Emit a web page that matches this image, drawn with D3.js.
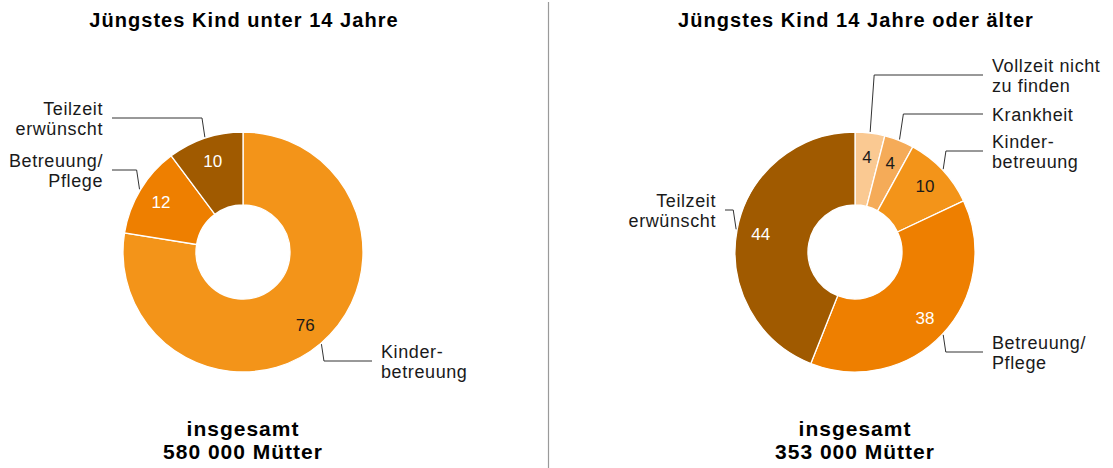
<!DOCTYPE html>
<html>
<head>
<meta charset="utf-8">
<script src="https://cdn.jsdelivr.net/npm/d3@7"></script>
<style>
  body { margin: 0; background: #fff; }
  svg { display: block; font-family: "Liberation Sans", Arial, sans-serif; }
</style>
</head>
<body>
<div id="chart"></div>
<script>
// Mothers working part time - reasons, by age of youngest child

const titles = ["Jüngstes Kind unter 14 Jahre", "Jüngstes Kind 14 Jahre oder älter"];
const totals = ["580 000 Mütter", "353 000 Mütter"];

const categoriesYoung = ["Kinderbetreuung", "Betreuung/Pflege", "Teilzeit erwünscht"];
const valuesYoung = [76, 12, 10];

const categoriesOld = ["Vollzeit nicht zu finden", "Krankheit", "Kinderbetreuung", "Betreuung/Pflege", "Teilzeit erwünscht"];
const valuesOld = [4, 4, 10, 38, 44];

// how each category label is broken into lines
const labelLines = {
    "Kinderbetreuung": ["Kinder-", "betreuung"],
    "Betreuung/Pflege": ["Betreuung/", "Pflege"],
    "Teilzeit erwünscht": ["Teilzeit", "erwünscht"],
    "Vollzeit nicht zu finden": ["Vollzeit nicht", "zu finden"],
    "Krankheit": ["Krankheit"]
};

const colors = {
    "Vollzeit nicht zu finden": "#fac992",
    "Krankheit": "#f5ab58",
    "Kinderbetreuung": "#f39419",
    "Betreuung/Pflege": "#ee7f00",
    "Teilzeit erwünscht": "#a05a00"
};
const darkText = ["Vollzeit nicht zu finden", "Krankheit", "Kinderbetreuung"];

const width = 1113,
    height = 468,
    rOuter = 120,
    rInner = 47,
    rLabel = 96;

// leader layout: knee y and end x of the line, relative to the donut centre
const charts = [
    {cx: 243, cy: 252, categories: categoriesYoung, values: valuesYoung,
     leaders: [{y: 109, x: 129}, {y: -82, x: -131}, {y: -134, x: -131}]},
    {cx: 855, cy: 252, categories: categoriesOld, values: valuesOld,
     leaders: [{y: -177, x: 128}, {y: -138, x: 128}, {y: -101, x: 128}, {y: 100, x: 128}, {y: -42, x: -130}]}
];

const svg = d3.select("#chart")
    .append("svg")
    .attr("width", width)
    .attr("height", height)
    .attr("viewBox", [0, 0, width, height]);

// divider between the two donuts
svg.append("line")
    .attr("x1", 548.5).attr("x2", 548.5)
    .attr("y1", 2).attr("y2", height)
    .attr("stroke", "#9a9a9a")
    .attr("stroke-width", 1.2);

const pie = d3.pie().sort(null).value(d => d.value);
const arc = d3.arc().innerRadius(rInner).outerRadius(rOuter);
const labelArc = d3.arc().innerRadius(rLabel).outerRadius(rLabel);

charts.forEach((c, ci) => {
    const data = c.categories.map((cat, i) => ({cat: cat, value: c.values[i], leader: c.leaders[i]}));
    const g = svg.append("g").attr("transform", `translate(${c.cx},${c.cy})`);

    // title
    svg.append("text")
        .attr("x", c.cx + 1)
        .attr("y", 27)
        .attr("text-anchor", "middle")
        .attr("font-weight", "bold")
        .attr("font-size", 20)
        .style("letter-spacing", "1.05px")
        .text(titles[ci]);

    // total below
    const foot = svg.append("text")
        .attr("text-anchor", "middle")
        .attr("font-weight", "bold")
        .attr("font-size", 21)
        .style("letter-spacing", "1px");
    foot.append("tspan").attr("x", c.cx).attr("y", 436).text("insgesamt");
    foot.append("tspan").attr("x", c.cx).attr("y", 459).text(totals[ci]);

    const arcs = pie(data);

    g.selectAll("path")
        .data(arcs)
        .join("path")
        .attr("d", arc)
        .attr("fill", d => colors[d.data.cat])
        .attr("stroke", "#fff")
        .attr("stroke-width", 1.3);

    // values inside the ring
    g.selectAll(".val")
        .data(arcs)
        .join("text")
        .attr("class", "val")
        .attr("transform", d => `translate(${labelArc.centroid(d)})`)
        .attr("text-anchor", "middle")
        .attr("dy", "0.35em")
        .attr("font-size", 17)
        .attr("fill", d => darkText.includes(d.data.cat) ? "#1a1a1a" : "#fff")
        .text(d => d.data.value);

    // leader lines
    g.selectAll(".leader")
        .data(arcs)
        .join("polyline")
        .attr("class", "leader")
        .attr("fill", "none")
        .attr("stroke", "#333")
        .attr("stroke-width", 1)
        .attr("points", d => {
            const a = (d.startAngle + d.endAngle) / 2;
            const ox = Math.sin(a) * (rOuter + 1),
                oy = -Math.cos(a) * (rOuter + 1);
            const lean = Math.sign(d.data.leader.x) * Math.min(4, Math.abs(d.data.leader.y - oy) * 0.15);
            return [[ox, oy], [ox + lean, d.data.leader.y], [d.data.leader.x, d.data.leader.y]];
        });

    // category labels
    const lab = g.selectAll(".lab")
        .data(arcs)
        .join("text")
        .attr("class", "lab")
        .attr("font-size", 18)
        .attr("fill", "#1a1a1a")
        .style("letter-spacing", "0.6px")
        .attr("text-anchor", d => d.data.leader.x > 0 ? "start" : "end");

    lab.selectAll("tspan")
        .data(d => {
            const lines = labelLines[d.data.cat];
            const L = d.data.leader;
            return lines.map((t, i) => ({
                t: t,
                x: L.x + (L.x > 0 ? 9 : -9),
                y: L.y + (i - (lines.length - 1) / 2) * 20 + 6.5
            }));
        })
        .join("tspan")
        .attr("x", d => d.x)
        .attr("y", d => d.y)
        .text(d => d.t);
});
</script>
</body>
</html>
